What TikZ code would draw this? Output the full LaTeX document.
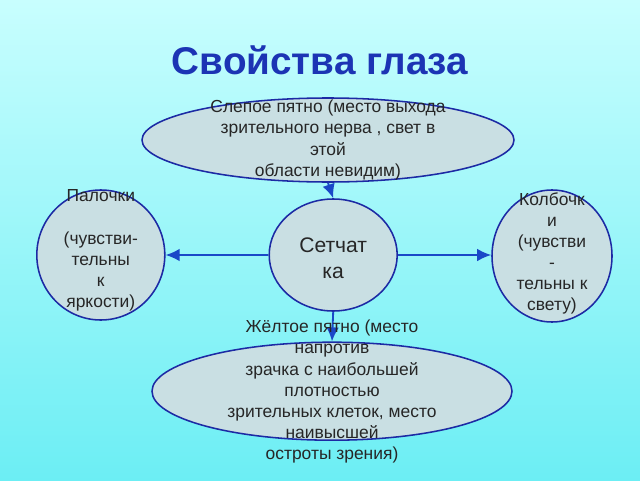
\documentclass[tikz,border=0pt]{standalone}
\usepackage{fontspec}
\setmainfont{Liberation Sans}
\usetikzlibrary{shapes.geometric,arrows.meta}

\definecolor{bgtop}{HTML}{C8FEFE}
\definecolor{bgbot}{HTML}{6CEEF4}
\definecolor{cellfill}{HTML}{C9DFE3}
\definecolor{celldraw}{HTML}{1C2AA4}
\definecolor{arrowblue}{HTML}{1A48C8}
\definecolor{titleblue}{HTML}{1C34B4}

\tikzset{
  cell/.style={ellipse,draw=celldraw,fill=cellfill,line width=1.1pt,inner sep=0pt},
  celltext/.style={align=center,font=\fontsize{12.4}{15}\selectfont,text=black!85},
  link/.style={draw=arrowblue,line width=1.3pt,-{Latex[length=10pt,width=9pt]}}
}

\begin{document}
\begin{tikzpicture}
        \shade[top color=bgtop,bottom color=bgbot] (0,0) rectangle (16,12);
        \useasboundingbox (0,0) rectangle (16,12);
        \node[font=\fontsize{27.5}{30}\selectfont\bfseries,text=titleblue] (title) at (8,10.5) {Свойства глаза};
        % shapes
        \node[cell,minimum width=9.3cm,minimum height=2.1cm] (blind) at (8.2,8.5) {};
        \node[cell,minimum width=3.2cm,minimum height=2.8cm] (retina) at (8.33,5.625) {};
        \node[cell,minimum width=3.2cm,minimum height=3.25cm] (rods) at (2.52,5.625) {};
        \node[cell,minimum width=3.0cm,minimum height=3.3cm] (cones) at (13.8,5.6) {};
        \node[cell,minimum width=9.0cm,minimum height=2.45cm] (yellow) at (8.3,2.22) {};
        % links
        \draw[link] (blind.south) -- (retina.north);
        \draw[link] (retina.south) -- (yellow.north);
        \draw[link] (retina.west) -- (rods.east);
        \draw[link] (retina.east) -- (retina.east -| cones.west);
        % texts
        \node[celltext] (blindtext) at (blind.center) {Слепое пятно (место выхода\\зрительного нерва , свет в\\этой\\области невидим)};
        \node[celltext,font=\fontsize{15}{18.5}\selectfont] (retinatext) at (8.33,5.55) {Сетчат\\ка};
        \node[celltext] (rodstext) at (2.52,5.74) {Палочки\\\\(чувстви-\\тельны\\к\\яркости)};
        \node[celltext] (conestext) at (13.8,5.67) {Колбочк\\и\\(чувстви\\-\\тельны к\\свету)};
        \node[celltext] (yellowtext) at (8.3,2.21) {Жёлтое пятно (место\\напротив\\зрачка с наибольшей\\плотностью\\зрительных клеток, место\\наивысшей\\остроты зрения)};
      \end{tikzpicture}
\end{document}
